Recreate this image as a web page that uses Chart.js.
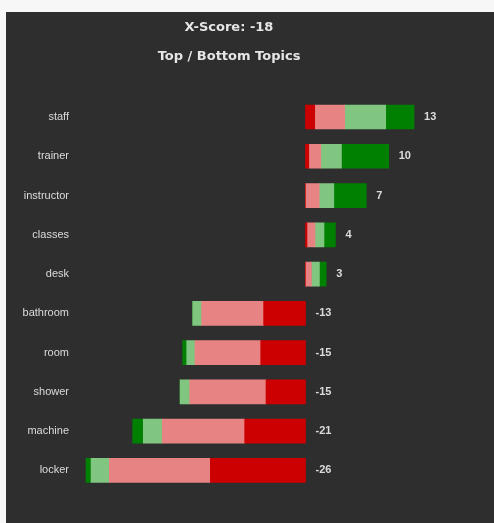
<!DOCTYPE html>
<html lang="en">
<head>
    <meta charset="UTF-8">
    <title>Top / Bottom Topics</title>
    <script src="https://cdn.jsdelivr.net/npm/chart.js"></script>
    <style>
        body {
            margin: 0;
            padding: 0;
            background-color: #f7f7f7;
        }
        .panel {
            position: absolute;
            left: 6px;
            top: 12px;
            width: 488px;
            height: 511px;
            background-color: #2e2e2e;
        }
    </style>
</head>
<body>

<div class="panel">
    <canvas id="topicsChart" width="488" height="511"></canvas>
</div>

<script>
// Topics, top to bottom
const topics = ["staff", "trainer", "instructor", "classes", "desk", "bathroom", "room", "shower", "machine", "locker"];

// Net score per topic (label at the bar end)
const scores = [13, 10, 7, 4, 3, -13, -15, -15, -21, -26];

// Segment sizes (in score units), negative topics stacked to the left
const veryNegative = [1.1, 0.39, 0, 0.18, 0, -4.98, -5.33, -4.70, -7.24, -11.33];
const negative     = [3.57, 1.43, 1.63, 0.95, 0.71, -7.38, -7.82, -9.08, -9.81, -12.02];
const positive     = [4.88, 2.46, 1.74, 1.07, 0.95, -1.07, -0.99, -1.15, -2.26, -2.18];
const veryPositive = [3.37, 5.63, 3.86, 1.36, 0.80, 0, -0.48, 0, -1.26, -0.60];

const xScoreTitle = "X-Score: -18";
const subTitle = "Top / Bottom Topics";

// Score labels drawn next to each bar
const scoreLabels = {
    id: 'scoreLabels',
    afterDatasetsDraw(chart) {
        const ctx = chart.ctx;
        const x = chart.scales.x;
        const y = chart.scales.y;
        ctx.save();
        ctx.font = 'bold 11px "Liberation Sans", Arial, sans-serif';
        ctx.fillStyle = '#dcdcdc';
        ctx.textAlign = 'left';
        ctx.textBaseline = 'middle';
        scores.forEach((s, i) => {
            let end = 0;
            if (s > 0) {
                end = veryNegative[i] + negative[i] + positive[i] + veryPositive[i];
            }
            ctx.fillText(String(s), x.getPixelForValue(end) + 10, y.getPixelForValue(i));
        });
        ctx.restore();
    }
};

const ctx = document.getElementById('topicsChart').getContext('2d');

new Chart(ctx, {
    type: 'bar',
    data: {
        labels: topics,
        datasets: [
            { label: 'Very negative', data: veryNegative, backgroundColor: '#cc0000' },
            { label: 'Negative', data: negative, backgroundColor: '#e88383' },
            { label: 'Positive', data: positive, backgroundColor: '#80c680' },
            { label: 'Very positive', data: veryPositive, backgroundColor: '#008000' }
        ]
    },
    options: {
        indexAxis: 'y',
        responsive: false,
        animation: false,
        datasets: {
            bar: {
                barThickness: 24,
                borderWidth: 0
            }
        },
        layout: {
            padding: { left: 0, right: 42, top: 0, bottom: 33 }
        },
        scales: {
            x: {
                display: false,
                stacked: true,
                min: -27.2,
                max: 17.44
            },
            y: {
                stacked: true,
                grid: { display: false, drawTicks: false },
                border: { display: false },
                ticks: {
                    padding: 8,
                    color: '#dcdcdc',
                    font: { family: '"Liberation Sans", Arial, sans-serif', size: 11 }
                },
                afterFit(axis) {
                    axis.width = 71;
                }
            }
        },
        plugins: {
            legend: { display: false },
            tooltip: { enabled: false },
            title: {
                display: true,
                text: xScoreTitle,
                color: '#e6e6e6',
                font: { family: '"DejaVu Sans", Verdana, sans-serif', size: 13, weight: 'bold', lineHeight: 1.2 },
                padding: { top: 8, bottom: 6 }
            },
            subtitle: {
                display: true,
                text: subTitle,
                color: '#e6e6e6',
                font: { family: '"DejaVu Sans", Verdana, sans-serif', size: 13, weight: 'bold', lineHeight: 1.2 },
                padding: { top: 7, bottom: 33.2 }
            }
        }
    },
    plugins: [scoreLabels]
});
</script>

</body>
</html>
